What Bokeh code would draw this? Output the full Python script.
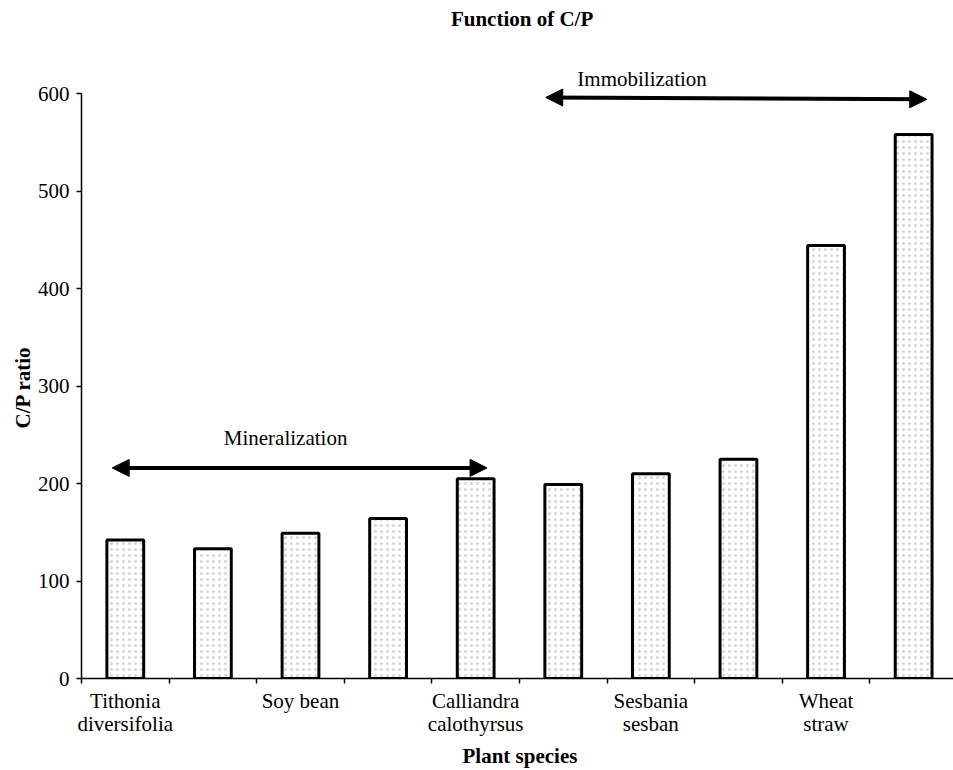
from bokeh.plotting import figure
from bokeh.models import Range1d, FixedTicker, Arrow, NormalHead, ColumnDataSource, Title
from bokeh.core.properties import value
from bokeh.embed import file_html
from bokeh.resources import INLINE

# ---- data ----
cp_ratio = [142, 133, 149, 164, 205, 199, 210, 225, 444, 558]
labelled_index = [0, 2, 4, 6, 8]
tick_labels = ["Tithonia\ndiversifolia", "Soy bean", "Calliandra\ncalothyrsus",
               "Sesbania\nsesban", "Wheat\nstraw"]
y_ticks = [0, 100, 200, 300, 400, 500, 600]

title_text = "Function of C/P"
x_title = "Plant species"
y_title = "C/P ratio"

# annotation texts / arrow spans (category units on x, C/P ratio on y)
note_texts = ["Mineralization", "Immobilization"]
note_x = [2.33, 6.40]
note_y = [247, 615]
arrow_x_start = [0.35, 5.30]
arrow_x_end = [4.63, 9.65]
arrow_y_start = [216, 596]
arrow_y_end = [216, 594]

FONT = "Liberation Serif"
FS = "21px"

x = [i + 0.5 for i in range(len(cp_ratio))]

p = figure(width=953, height=770, output_backend="svg", toolbar_location=None,
           x_range=Range1d(0, 9.955), y_range=Range1d(0, 695.4),
           min_border_left=81, min_border_right=0, min_border_top=0,
           min_border_bottom=92)
p.outline_line_color = None
p.xgrid.visible = False
p.ygrid.visible = False
p.background_fill_color = "white"
p.border_fill_color = "white"

p.vbar(x=x, top=cp_ratio, bottom=0, width=0.42, fill_color="white",
       line_color="black", line_width=3,
       hatch_pattern="dot", hatch_color="#d4d4d4", hatch_scale=6, hatch_weight=1)

# x axis: boundary ticks as minor ticks, labels at every other category
xa = p.xaxis[0]
xa.ticker = FixedTicker(ticks=[i + 0.5 for i in labelled_index],
                        minor_ticks=list(range(0, len(cp_ratio) + 1)))
xa.major_label_overrides = {i + 0.5: lab for i, lab in zip(labelled_index, tick_labels)}
xa.major_tick_line_color = None
xa.major_tick_out = 5
xa.major_tick_in = 0
xa.minor_tick_out = 5
xa.minor_tick_in = 0
xa.minor_tick_line_color = "black"
xa.minor_tick_line_width = 1.5
xa.axis_line_width = 1.5
xa.axis_line_color = "black"
xa.major_label_standoff = 5
xa.major_label_text_font = FONT
xa.major_label_text_font_size = FS
xa.major_label_text_line_height = 0.98
xa.major_label_text_color = "black"

ya = p.yaxis[0]
ya.ticker = FixedTicker(ticks=y_ticks)
ya.bounds = (0, 600)
ya.major_tick_out = 5
ya.major_tick_in = 0
ya.minor_tick_line_color = None
ya.major_tick_line_width = 1.5
ya.axis_line_width = 1.5
ya.axis_line_color = "black"
ya.major_label_standoff = 7
ya.major_label_text_font = FONT
ya.major_label_text_font_size = FS
ya.major_label_text_color = "black"

# axis titles as side titles so they can be positioned like the reference
p.add_layout(Title(text=x_title, align="left", offset=381, standoff=4,
                   text_font=FONT, text_font_size=FS, text_font_style="bold",
                   text_color="black"), "below")
p.add_layout(Title(text=y_title, align="left", offset=250, standoff=0,
                   text_font=FONT, text_font_size=FS, text_font_style="bold",
                   text_color="black"), "left")

# double-headed arrows
for xs, xe, ys, ye in zip(arrow_x_start, arrow_x_end, arrow_y_start, arrow_y_end):
    p.add_layout(Arrow(start=NormalHead(size=17, fill_color="black", line_color="black"),
                       end=NormalHead(size=17, fill_color="black", line_color="black"),
                       x_start=xs, y_start=ys, x_end=xe, y_end=ye,
                       line_width=4, line_color="black"))

notes = ColumnDataSource(dict(x=note_x, y=note_y, text=note_texts))
p.text(x="x", y="y", text="text", source=notes, text_font=value(FONT),
       text_font_size=FS, text_align="center", text_baseline="alphabetic",
       text_color="black")

title_src = ColumnDataSource(dict(x=[5.03], y=[676], text=[title_text]))
p.text(x="x", y="y", text="text", source=title_src, text_font=value(FONT),
       text_font_size=FS, text_font_style="bold", text_align="center",
       text_baseline="alphabetic", text_color="black")

open("out.html", "w").write(file_html(p, INLINE))
